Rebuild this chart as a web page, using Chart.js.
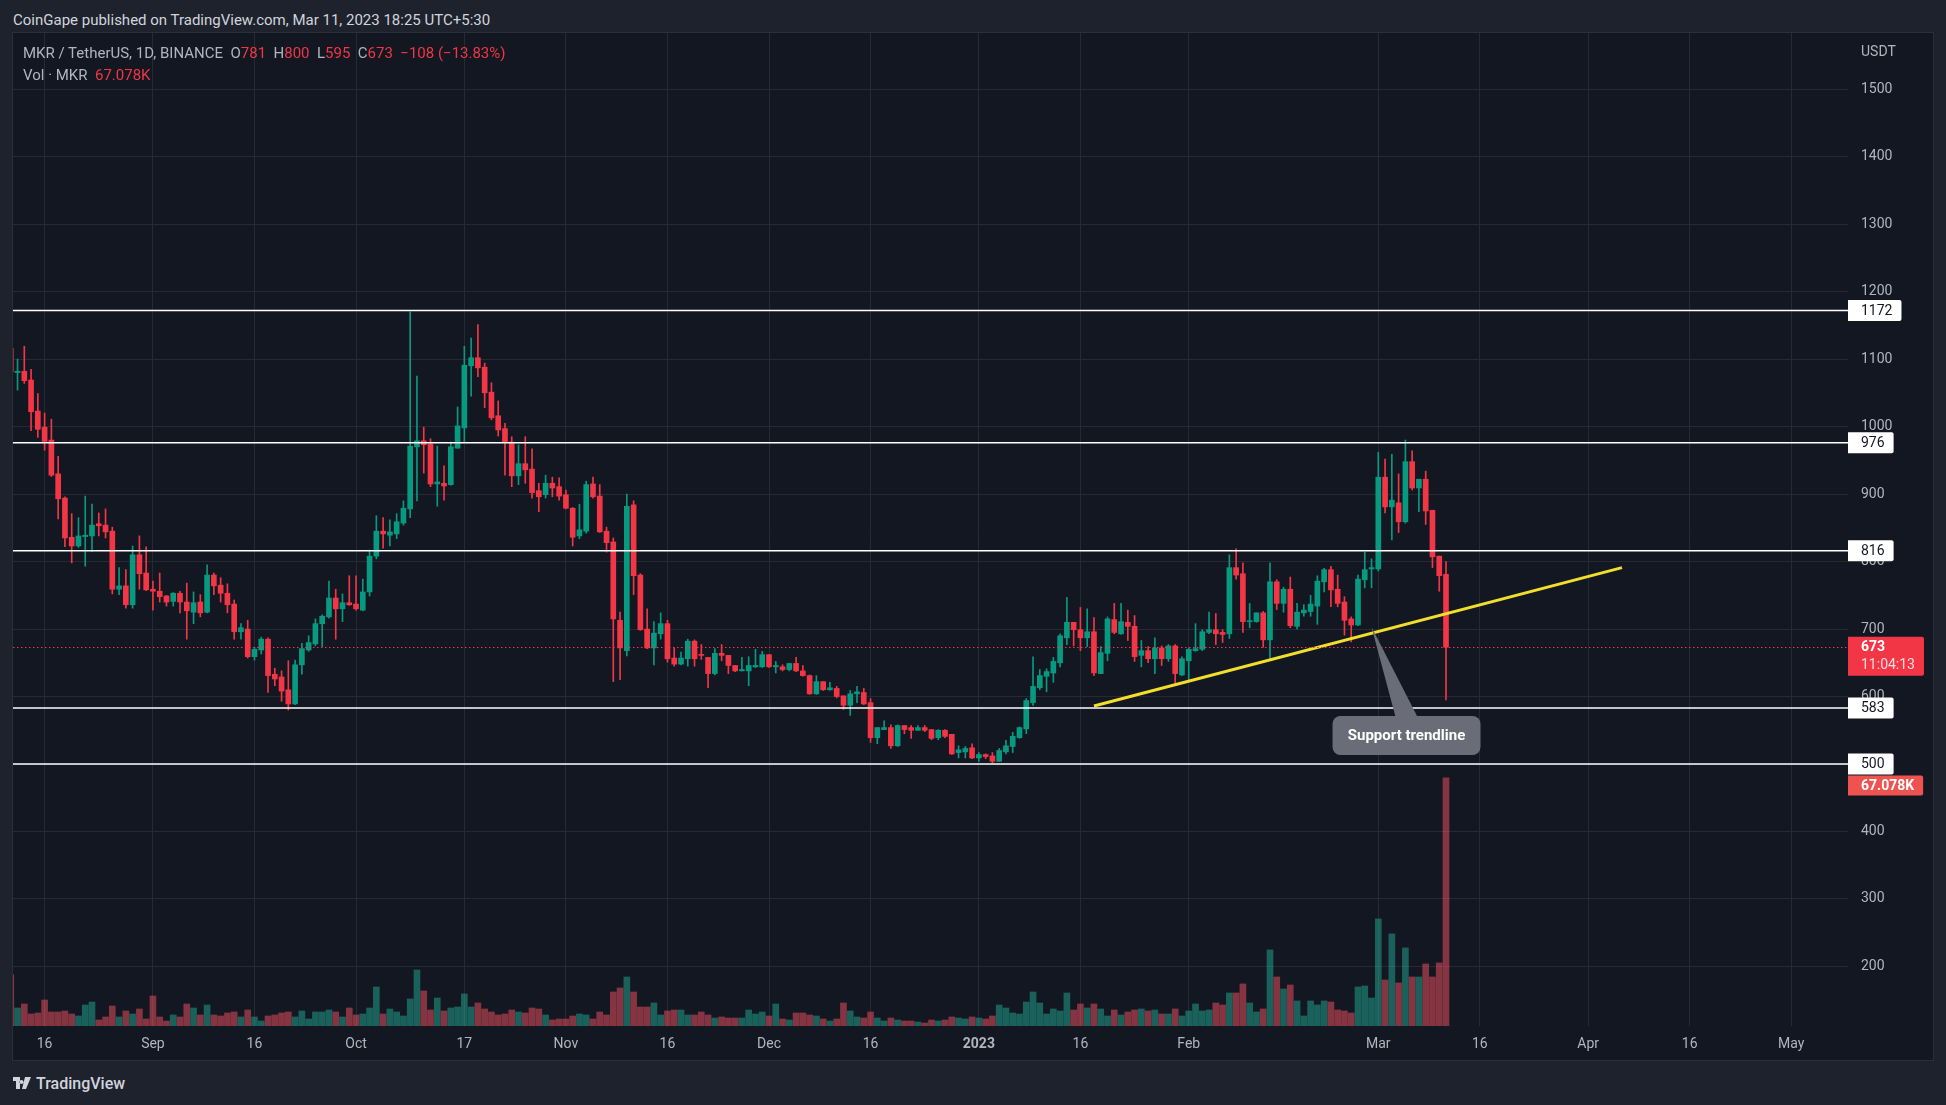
<!DOCTYPE html>
<html>
<head>
<meta charset="utf-8">
<script src="https://cdn.jsdelivr.net/npm/chart.js@4.4.0/dist/chart.umd.min.js"></script>
<style>
  html, body { margin: 0; padding: 0; width: 1946px; height: 1105px; overflow: hidden; background: #1e222d; font-family: Roboto, 'Noto Sans', sans-serif; }
  #title { position: absolute; left: 13px; top: 11px; font-size: 15px; line-height: 18px; color: #d1d4dc; }
  #pane { position: absolute; left: 12px; top: 32px; width: 1920px; height: 1027px; border: 1px solid #2a2e39; background: #131722; }
  #chart { position: absolute; left: 0; top: 0; }
  .legend { position: absolute; left: 10px; font-size: 15px; line-height: 18px; color: #b2b5be; white-space: pre; }
  .legend .r { color: #f23645; }
  #usdt { position: absolute; left: 1848px; top: 9px; font-size: 14px; line-height: 18px; color: #b2b5be; }
  #logo { position: absolute; left: 13px; top: 1073px; height: 20px; display: flex; align-items: center; color: #d1d4dc; font-size: 16px; font-weight: 500; }
  #logo svg { margin-right: 5px; }
</style>
</head>
<body>
<div id="title">CoinGape published on TradingView.com, Mar 11, 2023 18:25 UTC+5:30</div>
<div id="pane">
  <canvas id="chart" width="1920" height="1027"></canvas>
  <div class="legend" style="top:11px">MKR / TetherUS, 1D, BINANCE  O<span class="r">781</span>  H<span class="r">800</span>  L<span class="r">595</span>  C<span class="r">673</span>  <span class="r">−108 (−13.83%)</span></div>
  <div class="legend" style="top:33px">Vol · MKR  <span class="r">67.078K</span></div>
  <div id="usdt">USDT</div>
</div>
<div id="logo"><svg width="18" height="12" viewBox="0 0 18 12"><path d="M0 0h7v12H3V4H0z M8.5 3a2 2 0 1 0 0.01 0z M12 0h6l-5 12H9z" fill="#d1d4dc"/></svg>TradingView</div>

<script>
// daily candles MKR/USDT, first candle 2022-08-11
const startDate = '2022-08-11';

const opens = [
  1116,1080,1082,1069,1023,999,980,930,894,836,
  823,837,838,856,854,845,759,764,736,810,
  783,759,756,749,741,753,740,725,740,725,
  780,765,753,737,696,700,659,669,685,633,
  629,610,589,647,669,678,708,718,746,730,
  739,737,728,755,808,845,839,841,857,878,
  970,979,974,915,916,914,968,998,1090,1102,
  1088,1051,1016,997,977,927,945,937,905,899,
  916,911,899,879,838,845,915,897,845,829,
  713,668,884,780,700,672,693,708,657,648,
  656,682,662,658,634,664,661,646,638,638,
  644,644,662,644,644,640,649,638,631,604,
  622,610,612,601,587,604,606,591,539,551,
  554,527,557,554,550,554,551,539,550,544,
  517,518,524,509,514,512,504,518,526,539,
  552,591,613,630,635,650,687,710,699,687,
  696,634,664,714,693,710,704,661,668,656,
  672,656,675,632,653,668,670,695,699,695,
  693,791,782,711,711,724,684,770,738,759,
  704,724,726,734,770,788,759,740,715,706,
  773,789,789,925,881,887,859,948,909,922,
  876,808,781
];
const highs = [
  1121,1100,1119,1085,1049,1020,1011,956,896,871,
  865,897,885,872,878,851,791,788,823,838,
  822,771,783,750,754,756,768,755,751,795,
  783,776,767,743,708,713,673,688,687,642,
  638,653,654,679,690,715,721,771,759,752,
  779,779,774,817,868,865,862,871,890,1170,
  1075,999,982,971,942,977,1029,1119,1131,1151,
  1094,1065,1038,1005,985,973,985,967,916,928,
  925,924,906,880,885,919,925,914,851,835,
  725,900,890,782,730,711,724,713,672,666,
  685,684,677,658,671,677,661,646,658,659,
  670,667,662,652,647,649,658,646,632,631,
  622,621,615,601,609,615,612,597,554,564,
  558,558,557,557,557,557,551,551,551,544,
  527,526,530,517,515,517,523,535,547,555,
  597,659,640,641,658,693,747,710,732,730,
  717,674,718,738,738,728,720,683,674,687,
  675,677,677,659,672,708,699,725,723,699,
  810,819,798,738,724,726,798,773,762,777,
  738,736,750,779,790,793,780,748,718,780,
  814,804,962,952,959,930,980,964,922,934,
  876,808,800
];
const lows = [
  1078,1054,1064,994,984,965,926,863,822,798,
  821,793,815,838,835,752,751,731,731,759,
  757,728,740,734,734,724,685,708,718,724,
  751,740,724,685,685,657,654,663,606,616,
  593,580,588,633,667,675,674,716,685,711,
  735,728,727,749,804,820,823,834,854,865,
  890,931,911,882,891,913,968,977,1045,1074,
  1028,1010,986,928,911,914,916,894,874,894,
  896,891,878,823,834,842,894,843,814,622,
  625,660,751,698,671,647,685,651,645,647,
  645,645,655,613,632,653,634,637,638,616,
  643,643,643,635,638,638,637,630,603,603,
  609,609,598,581,572,591,588,532,530,551,
  523,526,545,538,550,548,536,536,539,514,
  509,509,508,504,508,502,504,515,517,538,
  545,587,610,607,621,644,677,675,668,674,
  631,634,653,693,692,683,652,644,650,634,
  646,652,616,631,622,667,668,693,677,680,
  686,774,695,702,710,673,655,729,725,702,
  700,719,719,707,755,733,733,691,681,705,
  761,761,786,872,832,843,857,906,874,855,
  791,756,595
];
const closes = [
  1081,1082,1068,1022,996,978,928,893,835,823,
  838,839,854,853,844,759,764,736,810,782,
  758,756,748,740,753,740,727,739,724,780,
  764,753,736,696,702,659,670,685,631,626,
  608,589,647,671,680,708,719,746,730,739,
  736,730,755,808,845,841,844,859,879,971,
  979,973,915,918,912,970,1001,1091,1102,1087,
  1050,1013,995,977,927,945,936,902,896,916,
  909,897,879,836,847,914,896,844,828,715,
  672,882,779,699,672,694,708,656,648,657,
  682,656,661,634,664,661,646,638,640,646,
  646,662,644,646,640,649,638,631,604,622,
  610,613,600,587,604,607,589,539,554,554,
  527,557,551,550,554,550,538,550,541,515,
  521,523,509,514,511,504,520,527,541,554,
  594,615,631,637,652,690,710,699,687,696,
  635,665,715,695,711,704,659,668,656,672,
  656,675,634,656,670,671,696,699,693,692,
  791,780,711,712,724,684,770,738,759,705,
  725,728,737,771,788,758,738,713,706,774,
  788,791,925,881,891,859,948,909,922,875,
  807,779,673
];
// volume in thousands of MKR
const volumes = [
  13.8,4.87,5.95,3.25,3.52,7.04,3.79,3.79,4.06,3.25,
  2.71,5.68,6.49,1.62,2.44,5.41,2.44,4.06,3.25,4.6,
  1.89,8.12,2.44,1.35,2.98,2.44,5.95,4.87,2.98,5.68,
  2.98,2.71,3.52,3.79,2.44,4.33,2.44,1.35,2.71,2.98,
  3.52,3.79,2.44,4.06,1.89,3.79,3.79,4.33,3.79,2.44,
  4.87,2.98,3.25,4.87,10.55,3.25,4.6,3.79,2.71,7.31,
  15.15,9.47,4.33,7.58,4.06,4.87,5.14,8.66,5.14,6.22,
  4.6,3.79,2.98,3.25,4.33,3.79,3.52,4.87,4.6,2.98,
  1.62,1.89,1.89,2.71,3.25,2.98,1.89,3.79,2.98,9.2,
  10.28,13.26,9.2,5.14,5.14,6.22,2.98,4.06,4.33,4.33,
  2.98,2.98,3.79,2.98,2.16,2.44,2.16,2.16,2.16,4.33,
  3.25,3.79,2.71,5.95,1.89,1.62,3.52,3.52,2.98,2.71,
  1.89,1.35,1.89,6.22,4.06,2.44,2.16,3.79,2.16,1.35,
  2.16,1.62,1.35,1.35,1.08,0.81,1.62,1.35,1.62,2.44,
  2.16,1.89,2.44,2.16,1.89,2.71,5.68,4.87,3.52,3.25,
  6.49,9.2,6.22,3.25,4.6,4.06,8.93,4.33,5.95,4.87,
  5.95,4.6,2.71,4.33,2.98,3.79,4.33,4.6,4.06,4.33,
  3.25,3.25,4.6,2.71,4.06,5.95,4.06,4.33,6.22,5.68,
  8.93,8.93,11.37,6.22,3.79,4.6,20.57,13.26,10.01,11.09,
  6.77,2.71,6.77,5.68,6.77,6.49,4.33,4.06,3.52,10.55,
  10.82,7.58,28.95,12.45,24.9,11.64,21.11,13.26,13.26,16.78,
  13.26,17.05,67.078
];

// time axis labels
const timeTicks = [
  ['2022-08-16', '16'], ['2022-09-01', 'Sep'], ['2022-09-16', '16'], ['2022-10-01', 'Oct'],
  ['2022-10-17', '17'], ['2022-11-01', 'Nov'], ['2022-11-16', '16'], ['2022-12-01', 'Dec'],
  ['2022-12-16', '16'], ['2023-01-01', '2023'], ['2023-01-16', '16'], ['2023-02-01', 'Feb'],
  ['2023-03-01', 'Mar'], ['2023-03-16', '16'], ['2023-04-01', 'Apr'], ['2023-04-16', '16'],
  ['2023-05-01', 'May']
];
const priceTicks = [200, 300, 400, 500, 600, 700, 800, 900, 1000, 1100, 1200, 1300, 1400, 1500];

// drawn levels and annotations
const levels = [1172, 976, 816, 583, 500];
const lastPrice = 673;
const countdown = '11:04:13';
const lastVolumeText = '67.078K';
const trendline = [['2023-01-18', 586], ['2023-04-06', 791]];
const callout = { date: '2023-02-28', price: 703, text: 'Support trendline' };

const UP = '#089981', DOWN = '#f23645';
const VOL_UP = 'rgba(34,171,148,0.5)', VOL_DOWN = 'rgba(247,82,95,0.5)';

function dayIndex(s) {
  return (Date.parse(s) - Date.parse(startDate)) / 86400000;
}

const xs = opens.map((_, i) => i);
const isUp = opens.map((o, i) => closes[i] >= o);
const tickLabel = new Map(timeTicks.map(t => [dayIndex(t[0]), t[1]]));
const jan1 = dayIndex('2023-01-01');

const wickData = xs.map(i => ({ x: i, y: [lows[i], highs[i]] }));
const bodyData = xs.map(i => ({ x: i, y: [opens[i], closes[i]] }));
const volData = xs.map(i => ({ x: i, y: volumes[i] }));
const trendData = trendline.map(p => ({ x: dayIndex(p[0]), y: p[1] }));

function roundRight(ctx, x, y, w, h, r) {
  ctx.beginPath();
  ctx.moveTo(x, y);
  ctx.lineTo(x + w - r, y);
  ctx.quadraticCurveTo(x + w, y, x + w, y + r);
  ctx.lineTo(x + w, y + h - r);
  ctx.quadraticCurveTo(x + w, y + h, x + w - r, y + h);
  ctx.lineTo(x, y + h);
  ctx.closePath();
  ctx.fill();
}

const overlay = {
  id: 'overlay',
  afterDatasetsDraw(chart) {
    const ctx = chart.ctx, y = chart.scales.y, x = chart.scales.x, a = chart.chartArea;
    ctx.save();
    // horizontal levels
    ctx.strokeStyle = '#ffffff';
    ctx.lineWidth = 1.5;
    levels.forEach(l => {
      const py = y.getPixelForValue(l);
      ctx.beginPath();
      ctx.moveTo(a.left, py);
      ctx.lineTo(a.right, py);
      ctx.stroke();
    });
    // last price dotted line
    const lp = Math.round(y.getPixelForValue(lastPrice)) + 0.5;
    ctx.strokeStyle = DOWN;
    ctx.lineWidth = 1;
    ctx.setLineDash([1.5, 2.5]);
    ctx.beginPath();
    ctx.moveTo(a.left, lp);
    ctx.lineTo(a.right, lp);
    ctx.stroke();
    ctx.setLineDash([]);
    // callout
    const tx = x.getPixelForValue(dayIndex(callout.date));
    const ty = y.getPixelForValue(callout.price);
    ctx.fillStyle = '#6a6d78';
    ctx.beginPath();
    ctx.moveTo(tx, ty);
    ctx.lineTo(tx + 46, ty + 90);
    ctx.lineTo(tx + 24, ty + 90);
    ctx.closePath();
    ctx.fill();
    const bw = 148, bh = 39, bx = tx + 35 - bw / 2, by = ty + 89;
    ctx.beginPath();
    ctx.roundRect(bx, by, bw, bh, 8);
    ctx.fill();
    ctx.fillStyle = '#ffffff';
    ctx.font = 'bold 15px Roboto';
    ctx.textAlign = 'center';
    ctx.textBaseline = 'middle';
    ctx.fillText(callout.text, bx + bw / 2, by + bh / 2 + 1);
    ctx.restore();
  },
  afterDraw(chart) {
    const ctx = chart.ctx, y = chart.scales.y, yv = chart.scales.yv, a = chart.chartArea;
    const tx = a.right + 13;
    ctx.save();
    ctx.textAlign = 'left';
    ctx.textBaseline = 'middle';
    ctx.font = '14px Roboto';
    levels.forEach(l => {
      const py = y.getPixelForValue(l);
      const t = String(l);
      const w = ctx.measureText(t).width + 22;
      ctx.fillStyle = '#ffffff';
      roundRight(ctx, a.right, py - 10.5, w, 21, 2);
      ctx.fillStyle = '#131722';
      ctx.fillText(t, tx, py + 0.5);
    });
    // last price tag
    const lp = y.getPixelForValue(lastPrice);
    ctx.font = '14px Roboto';
    const cw = ctx.measureText(countdown).width + 22;
    ctx.fillStyle = DOWN;
    roundRight(ctx, a.right, lp - 10.5, cw, 39, 2);
    ctx.fillStyle = '#ffffff';
    ctx.font = 'bold 14px Roboto';
    ctx.fillText(String(lastPrice), tx, lp + 0.5);
    ctx.font = '14px Roboto';
    ctx.fillStyle = 'rgba(255,255,255,0.82)';
    ctx.fillText(countdown, tx, lp + 18.5);
    // last volume tag, pushed below the 500 tag
    const vy = Math.max(yv.getPixelForValue(volumes[volumes.length - 1]) - 10, y.getPixelForValue(500) + 11.5);
    ctx.font = 'bold 14px Roboto';
    const vw = ctx.measureText(lastVolumeText).width + 22;
    ctx.fillStyle = '#ef5350';
    roundRight(ctx, a.right, vy, vw, 20, 2);
    ctx.fillStyle = '#ffffff';
    ctx.fillText(lastVolumeText, tx, vy + 10.5);
    ctx.restore();
  }
};

const gridColor = '#262a35';

new Chart(document.getElementById('chart'), {
  type: 'bar',
  data: {
    datasets: [
      {
        type: 'line', data: trendData, yAxisID: 'y', order: 0,
        borderColor: '#f2df2c', borderWidth: 3, pointRadius: 0, fill: false
      },
      {
        data: bodyData, yAxisID: 'y', order: 1, grouped: false,
        backgroundColor: xs.map(i => isUp[i] ? UP : DOWN),
        barThickness: 5, minBarLength: 1
      },
      {
        data: wickData, yAxisID: 'y', order: 2, grouped: false,
        backgroundColor: xs.map(i => isUp[i] ? UP : DOWN),
        barThickness: 1
      },
      {
        data: volData, yAxisID: 'yv', order: 3, grouped: false,
        backgroundColor: xs.map(i => isUp[i] ? VOL_UP : VOL_DOWN),
        barThickness: 6
      }
    ]
  },
  options: {
    responsive: false,
    animation: false,
    devicePixelRatio: 1,
    layout: { padding: 0 },
    plugins: { legend: { display: false }, tooltip: { enabled: false } },
    scales: {
      x: {
        type: 'linear',
        min: 0.33, max: 271.38,
        offset: false,
        border: { display: false },
        grid: { color: gridColor, drawTicks: false, offset: false },
        afterBuildTicks: s => { s.ticks = [...tickLabel.keys()].map(v => ({ value: v })); },
        afterFit: s => { s.height = 34; s.paddingLeft = 0; s.paddingRight = 0; },
        ticks: {
          autoSkip: false, maxRotation: 0, padding: 10, color: '#b2b5be',
          font: c => ({ family: 'Roboto', size: 14, weight: (c.tick && c.tick.value === jan1) ? 'bold' : 'normal' }),
          callback: v => tickLabel.get(v) || ''
        }
      },
      y: {
        type: 'linear', position: 'right',
        min: 111.8, max: 1583.2,
        border: { display: false },
        grid: { color: gridColor, drawTicks: false },
        afterBuildTicks: s => { s.ticks = priceTicks.map(v => ({ value: v })); },
        afterFit: s => { s.width = 85; s.paddingTop = 0; s.paddingBottom = 0; },
        ticks: { padding: 13, color: '#b2b5be', font: { family: 'Roboto', size: 14 }, callback: v => String(v) }
      },
      yv: {
        type: 'linear', display: false,
        min: 0, max: 268.44
      }
    }
  },
  plugins: [overlay]
});
</script>
</body>
</html>
